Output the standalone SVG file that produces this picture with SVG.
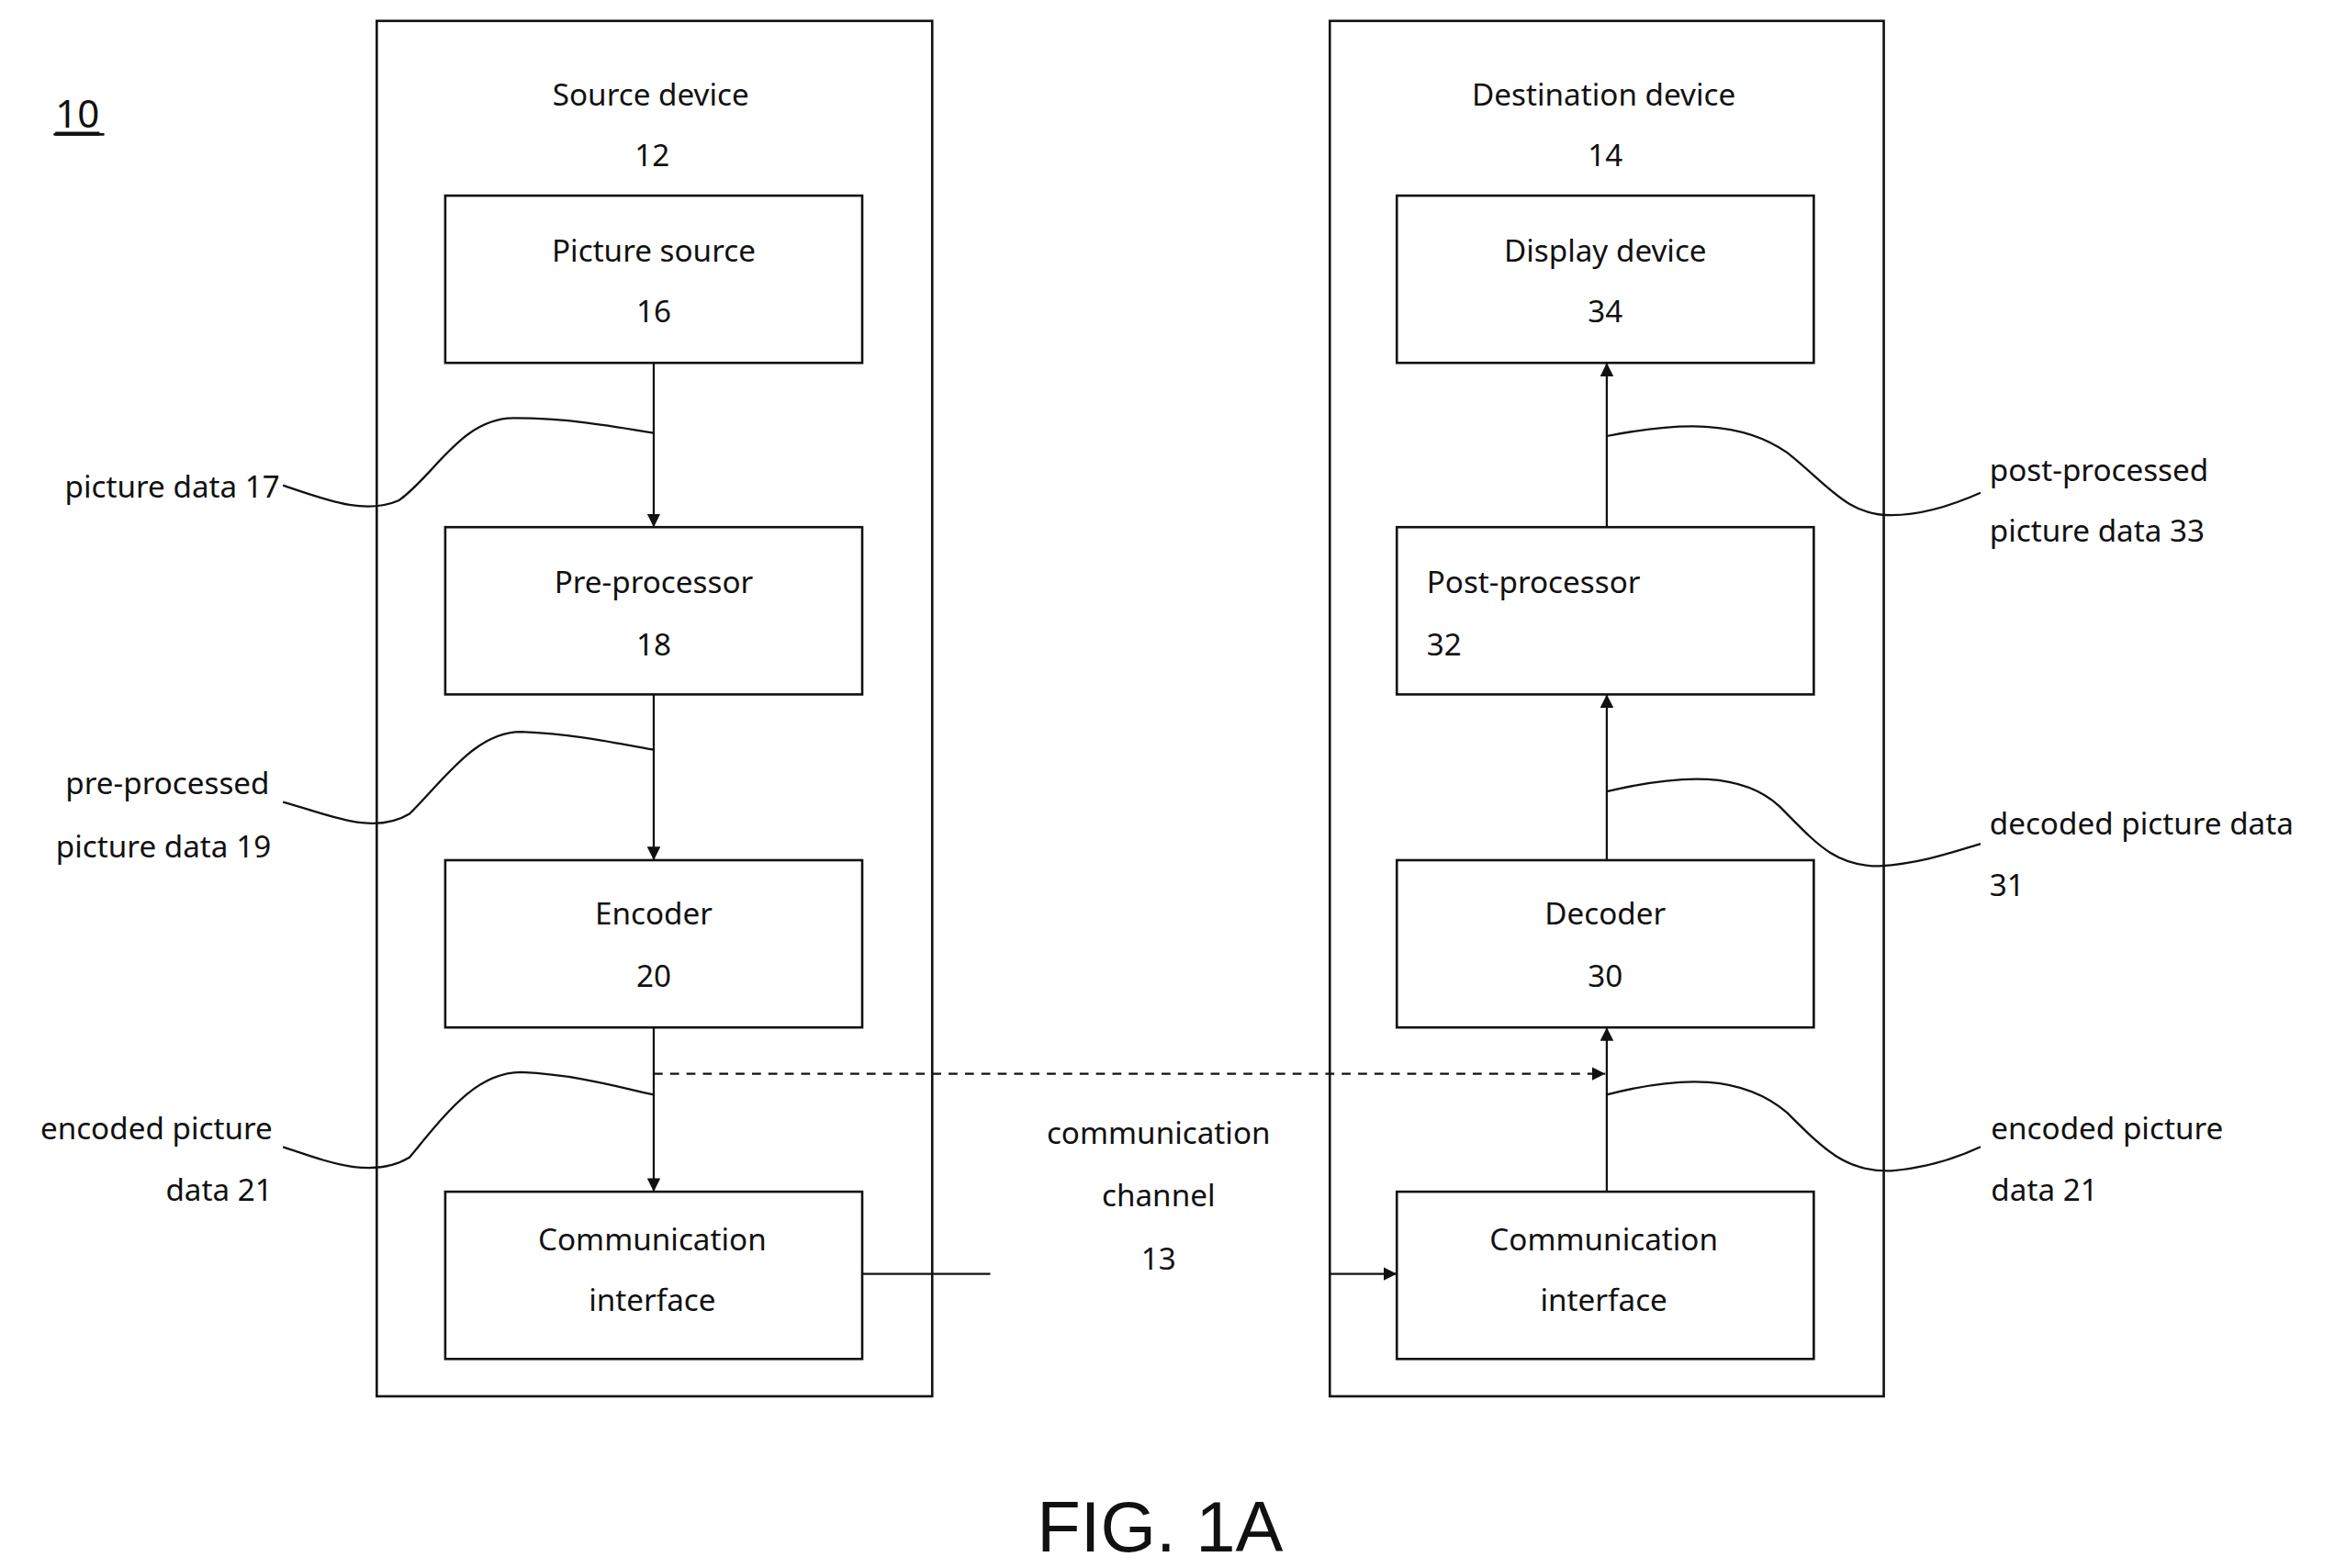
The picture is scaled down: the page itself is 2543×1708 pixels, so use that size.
<svg xmlns="http://www.w3.org/2000/svg" width="2543" height="1708" viewBox="0 0 2543 1708">
<style>
text{font-family:"Noto Sans","Open Sans",sans-serif;font-size:20.5px;fill:#111;dominant-baseline:central}
.c{text-anchor:middle}.r{text-anchor:end}
.box{fill:#fff;stroke:#111;stroke-width:1.6}
.ln{fill:none;stroke:#111;stroke-width:1.4}
.ar{fill:none;stroke:#111;stroke-width:1.4;marker-end:url(#ah)}
</style>
<defs><marker id="ah" viewBox="0 0 10 10" refX="10" refY="5" markerWidth="9" markerHeight="9" markerUnits="userSpaceOnUse" orient="auto"><path d="M0,0L10,5L0,10z" fill="#111"/></marker></defs>
<rect width="2543" height="1708" fill="#fff"/>
<g transform="scale(1.6218,1.6267)">
<g id="label10"><text x="52" y="75" class="c" style="font-size:26px;text-decoration:underline">10</text><line x1="36" y1="90" x2="70" y2="90" stroke="#111" stroke-width="1.6"/></g>
<g id="source"><rect class="box" x="253" y="14" width="373" height="921"/><text class="c" x="437" y="63">Source device</text><text class="c" x="438" y="103">12</text></g>
<g id="dest"><rect class="box" x="893" y="14" width="372" height="921"/><text class="c" x="1077" y="63">Destination device</text><text class="c" x="1078" y="103">14</text></g>
<g id="n16"><rect class="box" x="299" y="131" width="280" height="112"/><text class="c" x="439" y="167">Picture source</text><text class="c" x="439" y="208">16</text></g>
<g id="n18"><rect class="box" x="299" y="353" width="280" height="112"/><text class="c" x="439" y="389">Pre-processor</text><text class="c" x="439" y="431">18</text></g>
<g id="n20"><rect class="box" x="299" y="576" width="280" height="112"/><text class="c" x="439" y="611">Encoder</text><text class="c" x="439" y="653">20</text></g>
<g id="n22"><rect class="box" x="299" y="798" width="280" height="112"/><text class="c" x="438" y="829">Communication</text><text class="c" x="438" y="870">interface</text></g>
<g id="n34"><rect class="box" x="938" y="131" width="280" height="112"/><text class="c" x="1078" y="167">Display device</text><text class="c" x="1078" y="208">34</text></g>
<g id="n32"><rect class="box" x="938" y="353" width="280" height="112"/><text x="958" y="389">Post-processor</text><text x="958" y="431">32</text></g>
<g id="n30"><rect class="box" x="938" y="576" width="280" height="112"/><text class="c" x="1078" y="611">Decoder</text><text class="c" x="1078" y="653">30</text></g>
<g id="n28"><rect class="box" x="938" y="798" width="280" height="112"/><text class="c" x="1077" y="829">Communication</text><text class="c" x="1077" y="870">interface</text></g>
<g id="connectors">
<line class="ar" x1="439" y1="243" x2="439" y2="353"/>
<line class="ar" x1="439" y1="465" x2="439" y2="576"/>
<line class="ar" x1="439" y1="688" x2="439" y2="798"/>
<line class="ar" x1="1079" y1="798" x2="1079" y2="688"/>
<line class="ar" x1="1079" y1="576" x2="1079" y2="465"/>
<line class="ar" x1="1079" y1="353" x2="1079" y2="243"/>
<line class="ar" x1="439" y1="719" x2="1078" y2="719" stroke-dasharray="6,5"/>
<line class="ln" x1="579" y1="853" x2="665" y2="853"/>
<line class="ar" x1="893" y1="853" x2="938" y2="853"/>
<path class="ln" d="M190,325 C220,335 245,345 268,335 C292,318 310,280 345,280 C380,280 410,285 439,290"/>
<path class="ln" d="M190,537 C220,545 250,560 275,545 C300,520 320,490 350,490 C390,492 410,497 439,502"/>
<path class="ln" d="M190,768 C220,778 250,790 275,775 C300,745 320,718 350,718 C390,720 415,728 439,733"/>
<path class="ln" d="M1079,292 C1130,282 1170,282 1200,303 C1228,325 1240,345 1270,345 C1292,345 1312,338 1330,330"/>
<path class="ln" d="M1079,530 C1130,518 1170,517 1195,540 C1220,565 1232,580 1262,580 C1290,578 1310,571 1330,565"/>
<path class="ln" d="M1079,733 C1130,720 1170,720 1200,745 C1225,770 1240,785 1270,784 C1295,782 1315,775 1330,768"/>
</g>
<g id="labels">
<text class="r" x="188" y="325">picture data 17</text>
<text class="r" x="181" y="524">pre-processed</text>
<text class="r" x="182" y="566">picture data 19</text>
<text class="r" x="183" y="755">encoded picture</text>
<text class="r" x="183" y="796">data 21</text>
<text x="1336" y="314">post-processed</text>
<text x="1336" y="355">picture data 33</text>
<text x="1336" y="551">decoded picture data</text>
<text x="1336" y="592">31</text>
<text x="1337" y="755">encoded picture</text>
<text x="1337" y="796">data 21</text>
<text class="c" x="778" y="758">communication</text>
<text class="c" x="778" y="800">channel</text>
<text class="c" x="778" y="842">13</text>
<text class="c" x="779" y="1022" style="font-family:'Liberation Sans',Arial,sans-serif;font-size:48px">FIG. 1A</text>
</g>
</g>
</svg>
